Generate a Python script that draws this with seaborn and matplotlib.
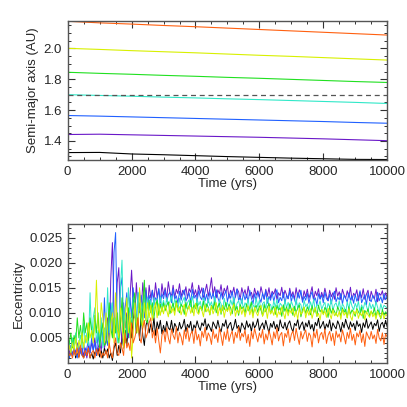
import numpy as np
import pandas as pd
import matplotlib
matplotlib.use("Agg")
import matplotlib.pyplot as plt
from matplotlib.ticker import MultipleLocator, FormatStrFormatter
import seaborn as sns

# ---- data -------------------------------------------------------------
names = ["black", "purple", "blue", "cyan", "green", "yellow", "orange"]
colors = ["#000000", "#6a18c8", "#2060ff", "#30e8c8", "#20e020", "#d8f000", "#ff6010"]

# semi-major axis, every 1000 yrs
a_time = [0, 1000, 2000, 3000, 4000, 5000, 6000, 7000, 8000, 9000, 10000]
a_black = [1.325, 1.326, 1.316, 1.311, 1.305, 1.299, 1.294, 1.289, 1.285, 1.281, 1.280]
a_purple = [1.442, 1.444, 1.440, 1.436, 1.432, 1.428, 1.424, 1.419, 1.414, 1.408, 1.402]
a_blue = [1.565, 1.561, 1.556, 1.551, 1.546, 1.541, 1.536, 1.531, 1.526, 1.520, 1.515]
a_cyan = [1.700, 1.695, 1.690, 1.684, 1.679, 1.673, 1.668, 1.662, 1.656, 1.650, 1.643]
a_green = [1.845, 1.838, 1.832, 1.825, 1.819, 1.812, 1.806, 1.799, 1.792, 1.785, 1.779]
a_yellow = [2.000, 1.993, 1.985, 1.978, 1.971, 1.963, 1.955, 1.948, 1.940, 1.932, 1.924]
a_orange = [2.175, 2.165, 2.157, 2.148, 2.140, 2.131, 2.122, 2.113, 2.104, 2.095, 2.086]
a_ref = 1.70

# eccentricity, every 50 yrs (one row = 500 yrs)
e_step = 50
e_black = [
    0.002, 0.001, 0.0025, 0.0015, 0.003, 0.001, 0.002, 0.0012, 0.0028, 0.0018,
    0.001, 0.0025, 0.0015, 0.003, 0.001, 0.002, 0.0008, 0.0022, 0.0015, 0.003,
    0.0012, 0.0025, 0.001, 0.003, 0.0018, 0.0028, 0.001, 0.002, 0.0005, 0.003,
    0.004, 0.0015, 0.0035, 0.002, 0.0055, 0.003, 0.0065, 0.0035, 0.0075, 0.009,
    0.005, 0.0085, 0.011, 0.006, 0.009, 0.0045, 0.010, 0.0055, 0.0035, 0.0075,
    0.0085, 0.006, 0.0078, 0.0062, 0.009, 0.0055, 0.0082, 0.0068, 0.0085, 0.0058,
    0.0075, 0.0062, 0.0083, 0.0070, 0.0066, 0.0085, 0.0061, 0.0079, 0.0072, 0.0064,
    0.0081, 0.0068, 0.0074, 0.0087, 0.0063, 0.0077, 0.0070, 0.0083, 0.0060, 0.0076,
    0.0069, 0.0084, 0.0072, 0.0065, 0.0080, 0.0074, 0.0088, 0.0066, 0.0078, 0.0071,
    0.0063, 0.0082, 0.0075, 0.0068, 0.0085, 0.0070, 0.0062, 0.0079, 0.0073, 0.0086,
    0.0067, 0.0076, 0.0081, 0.0064, 0.0072, 0.0087, 0.0069, 0.0075, 0.0061, 0.0080,
    0.0073, 0.0066, 0.0084, 0.0071, 0.0078, 0.0063, 0.0082, 0.0070, 0.0076, 0.0088,
    0.0065, 0.0074, 0.0080, 0.0067, 0.0085, 0.0072, 0.0060, 0.0079, 0.0071, 0.0083,
    0.0068, 0.0077, 0.0064, 0.0086, 0.0073, 0.0069, 0.0081, 0.0066, 0.0078, 0.0084,
    0.0070, 0.0062, 0.0079, 0.0074, 0.0087, 0.0067, 0.0076, 0.0082, 0.0065, 0.0080,
    0.0072, 0.0085, 0.0068, 0.0077, 0.0063, 0.0081, 0.0074, 0.0089, 0.0069, 0.0075,
    0.0083, 0.0066, 0.0078, 0.0071, 0.0086, 0.0064, 0.0080, 0.0073, 0.0068, 0.0084,
    0.0076, 0.0062, 0.0081, 0.0070, 0.0087, 0.0075, 0.0067, 0.0082, 0.0072, 0.0079,
    0.0065, 0.0084, 0.0073, 0.0078, 0.0061, 0.0080, 0.0071, 0.0088, 0.0069, 0.0076,
    0.0082, 0.0067, 0.0079, 0.0074, 0.0086, 0.0063, 0.0077, 0.0081, 0.0070, 0.0085,
    0.0072]
e_purple = [
    0.001, 0.002, 0.0035, 0.0015, 0.003, 0.002, 0.004, 0.0015, 0.0025, 0.003,
    0.0015, 0.003, 0.001, 0.0035, 0.002, 0.004, 0.0025, 0.005, 0.002, 0.003,
    0.004, 0.0025, 0.006, 0.003, 0.0045, 0.009, 0.004, 0.017, 0.024, 0.010,
    0.006, 0.016, 0.019, 0.008, 0.004, 0.012, 0.007, 0.010, 0.005, 0.013,
    0.0185, 0.012, 0.009, 0.016, 0.011, 0.0145, 0.010, 0.016, 0.012, 0.015,
    0.011, 0.0155, 0.013, 0.0145, 0.0125, 0.016, 0.013, 0.0148, 0.012, 0.0158,
    0.0135, 0.0150, 0.0128, 0.0162, 0.0140, 0.0133, 0.0155, 0.0130, 0.0147, 0.0138,
    0.0158, 0.0132, 0.0145, 0.0136, 0.0152, 0.0129, 0.0148, 0.0141, 0.0160, 0.0134,
    0.0146, 0.0131, 0.0155, 0.0139, 0.0150, 0.0128, 0.0143, 0.0157, 0.0133, 0.0148,
    0.0170, 0.0135, 0.0152, 0.0130, 0.0146, 0.0138, 0.0156, 0.0132, 0.0149, 0.0140,
    0.0154, 0.0129, 0.0145, 0.0137, 0.0151, 0.0131, 0.0148, 0.0142, 0.0127, 0.0150,
    0.0136, 0.0146, 0.0130, 0.0153, 0.0134, 0.0141, 0.0128, 0.0149, 0.0135, 0.0144,
    0.0131, 0.0152, 0.0138, 0.0127, 0.0147, 0.0133, 0.0150, 0.0129, 0.0143, 0.0137,
    0.0148, 0.0126, 0.0140, 0.0134, 0.0151, 0.0130, 0.0145, 0.0136, 0.0128, 0.0149,
    0.0133, 0.0142, 0.0127, 0.0150, 0.0131, 0.0146, 0.0138, 0.0125, 0.0144, 0.0132,
    0.0147, 0.0129, 0.0139, 0.0152, 0.0126, 0.0143, 0.0134, 0.0148, 0.0128, 0.0141,
    0.0130, 0.0149, 0.0135, 0.0124, 0.0145, 0.0132, 0.0140, 0.0127, 0.0150, 0.0133,
    0.0142, 0.0126, 0.0147, 0.0136, 0.0129, 0.0144, 0.0131, 0.0151, 0.0125, 0.0139,
    0.0134, 0.0146, 0.0123, 0.0141, 0.0130, 0.0148, 0.0127, 0.0137, 0.0145, 0.0124,
    0.0143, 0.0132, 0.0128, 0.0147, 0.0122, 0.0139, 0.0135, 0.0144, 0.0126, 0.0140,
    0.0130]
e_blue = [
    0.002, 0.001, 0.0025, 0.0015, 0.003, 0.002, 0.001, 0.0035, 0.002, 0.0015,
    0.004, 0.0015, 0.003, 0.0045, 0.002, 0.005, 0.0025, 0.004, 0.0015, 0.006,
    0.003, 0.0075, 0.004, 0.013, 0.005, 0.0035, 0.009, 0.012, 0.006, 0.022,
    0.026, 0.007, 0.005, 0.015, 0.017, 0.006, 0.011, 0.014, 0.008, 0.013,
    0.009, 0.015, 0.011, 0.0085, 0.014, 0.010, 0.0135, 0.0115, 0.009, 0.0145,
    0.0115, 0.0135, 0.012, 0.0145, 0.0115, 0.013, 0.0125, 0.0148, 0.012, 0.0138,
    0.0128, 0.0145, 0.0122, 0.0136, 0.0141, 0.0120, 0.0148, 0.0127, 0.0134, 0.0119,
    0.0143, 0.0125, 0.0138, 0.0146, 0.0123, 0.0132, 0.0140, 0.0121, 0.0147, 0.0129,
    0.0135, 0.0122, 0.0144, 0.0131, 0.0126, 0.0149, 0.0124, 0.0137, 0.0120, 0.0142,
    0.0128, 0.0139, 0.0123, 0.0146, 0.0130, 0.0121, 0.0141, 0.0127, 0.0135, 0.0144,
    0.0122, 0.0137, 0.0129, 0.0143, 0.0120, 0.0134, 0.0147, 0.0125, 0.0131, 0.0119,
    0.0140, 0.0126, 0.0136, 0.0122, 0.0145, 0.0129, 0.0118, 0.0138, 0.0124, 0.0142,
    0.0130, 0.0121, 0.0139, 0.0127, 0.0144, 0.0119, 0.0133, 0.0125, 0.0140, 0.0123,
    0.0136, 0.0146, 0.0120, 0.0131, 0.0124, 0.0141, 0.0118, 0.0135, 0.0128, 0.0143,
    0.0122, 0.0137, 0.0126, 0.0117, 0.0140, 0.0129, 0.0145, 0.0121, 0.0133, 0.0125,
    0.0139, 0.0119, 0.0134, 0.0142, 0.0123, 0.0130, 0.0116, 0.0138, 0.0127, 0.0136,
    0.0120, 0.0141, 0.0128, 0.0124, 0.0137, 0.0118, 0.0133, 0.0143, 0.0122, 0.0131,
    0.0126, 0.0139, 0.0117, 0.0135, 0.0129, 0.0121, 0.0140, 0.0125, 0.0134, 0.0119,
    0.0137, 0.0123, 0.0131, 0.0144, 0.0120, 0.0128, 0.0136, 0.0116, 0.0139, 0.0127,
    0.0122, 0.0135, 0.0129, 0.0118, 0.0141, 0.0124, 0.0132, 0.0120, 0.0138, 0.0126,
    0.0134]
e_cyan = [
    0.003, 0.0045, 0.002, 0.005, 0.003, 0.006, 0.0025, 0.004, 0.0055, 0.003,
    0.008, 0.004, 0.006, 0.0035, 0.014, 0.005, 0.009, 0.011, 0.004, 0.0065,
    0.004, 0.009, 0.003, 0.007, 0.0055, 0.015, 0.006, 0.010, 0.012, 0.005,
    0.009, 0.004, 0.007, 0.015, 0.0205, 0.007, 0.011, 0.005, 0.015, 0.009,
    0.008, 0.013, 0.0095, 0.007, 0.014, 0.0105, 0.012, 0.008, 0.0135, 0.010,
    0.013, 0.0105, 0.0125, 0.0095, 0.013, 0.011, 0.0128, 0.0105, 0.0132, 0.0112,
    0.0125, 0.0108, 0.0130, 0.0115, 0.0122, 0.0134, 0.0110, 0.0127, 0.0118, 0.0106,
    0.0129, 0.0113, 0.0124, 0.0131, 0.0109, 0.0120, 0.0126, 0.0112, 0.0133, 0.0117,
    0.0108, 0.0128, 0.0115, 0.0123, 0.0105, 0.0130, 0.0119, 0.0111, 0.0127, 0.0114,
    0.0122, 0.0107, 0.0132, 0.0116, 0.0110, 0.0125, 0.0118, 0.0104, 0.0129, 0.0113,
    0.0121, 0.0109, 0.0126, 0.0115, 0.0131, 0.0106, 0.0119, 0.0124, 0.0111, 0.0128,
    0.0107, 0.0120, 0.0114, 0.0127, 0.0103, 0.0123, 0.0116, 0.0110, 0.0129, 0.0112,
    0.0125, 0.0105, 0.0118, 0.0122, 0.0108, 0.0130, 0.0113, 0.0117, 0.0104, 0.0124,
    0.0111, 0.0127, 0.0106, 0.0119, 0.0115, 0.0102, 0.0126, 0.0110, 0.0121, 0.0108,
    0.0123, 0.0114, 0.0104, 0.0128, 0.0109, 0.0120, 0.0116, 0.0101, 0.0125, 0.0112,
    0.0118, 0.0106, 0.0122, 0.0110, 0.0127, 0.0103, 0.0117, 0.0113, 0.0124, 0.0107,
    0.0115, 0.0121, 0.0102, 0.0119, 0.0111, 0.0126, 0.0105, 0.0116, 0.0120, 0.0109,
    0.0124, 0.0104, 0.0118, 0.0112, 0.0100, 0.0122, 0.0108, 0.0125, 0.0113, 0.0106,
    0.0119, 0.0110, 0.0123, 0.0101, 0.0116, 0.0107, 0.0121, 0.0114, 0.0103, 0.0120,
    0.0108, 0.0117, 0.0105, 0.0122, 0.0111, 0.0099, 0.0118, 0.0106, 0.0115, 0.0112,
    0.0110]
e_green = [
    0.002, 0.004, 0.006, 0.003, 0.0055, 0.004, 0.009, 0.005, 0.0075, 0.004,
    0.010, 0.006, 0.008, 0.0045, 0.009, 0.0065, 0.005, 0.0095, 0.006, 0.010,
    0.003, 0.006, 0.008, 0.0035, 0.004, 0.0065, 0.012, 0.007, 0.005, 0.009,
    0.006, 0.010, 0.004, 0.0075, 0.013, 0.006, 0.004, 0.009, 0.011, 0.005,
    0.007, 0.012, 0.014, 0.006, 0.009, 0.012, 0.0075, 0.011, 0.0165, 0.0085,
    0.008, 0.0125, 0.010, 0.012, 0.009, 0.0115, 0.0125, 0.0095, 0.0118, 0.0102,
    0.012, 0.0104, 0.0115, 0.0122, 0.0098, 0.0110, 0.0119, 0.0103, 0.0124, 0.0108,
    0.0100, 0.0117, 0.0112, 0.0097, 0.0121, 0.0106, 0.0114, 0.0125, 0.0101, 0.0116,
    0.0109, 0.0120, 0.0099, 0.0113, 0.0105, 0.0123, 0.0102, 0.0118, 0.0111, 0.0096,
    0.0115, 0.0107, 0.0122, 0.0100, 0.0112, 0.0119, 0.0097, 0.0114, 0.0106, 0.0121,
    0.0103, 0.0117, 0.0110, 0.0098, 0.0120, 0.0105, 0.0113, 0.0095, 0.0116, 0.0108,
    0.0112, 0.0099, 0.0118, 0.0104, 0.0110, 0.0121, 0.0096, 0.0109, 0.0115, 0.0101,
    0.0114, 0.0106, 0.0094, 0.0117, 0.0102, 0.0111, 0.0119, 0.0098, 0.0108, 0.0113,
    0.0097, 0.0115, 0.0105, 0.0110, 0.0093, 0.0116, 0.0103, 0.0112, 0.0100, 0.0118,
    0.0107, 0.0095, 0.0113, 0.0101, 0.0109, 0.0116, 0.0092, 0.0106, 0.0111, 0.0099,
    0.0112, 0.0104, 0.0096, 0.0114, 0.0100, 0.0108, 0.0093, 0.0115, 0.0102, 0.0107,
    0.0098, 0.0111, 0.0105, 0.0091, 0.0113, 0.0099, 0.0109, 0.0103, 0.0095, 0.0112,
    0.0104, 0.0094, 0.0110, 0.0101, 0.0107, 0.0090, 0.0112, 0.0097, 0.0106, 0.0100,
    0.0093, 0.0109, 0.0102, 0.0096, 0.0111, 0.0089, 0.0105, 0.0099, 0.0108, 0.0094,
    0.0103, 0.0097, 0.0110, 0.0092, 0.0106, 0.0100, 0.0088, 0.0107, 0.0095, 0.0102,
    0.0098]
e_yellow = [
    0.001, 0.0035, 0.002, 0.004, 0.0025, 0.005, 0.002, 0.0045, 0.003, 0.006,
    0.003, 0.0055, 0.004, 0.008, 0.005, 0.0065, 0.004, 0.008, 0.0165, 0.007,
    0.006, 0.012, 0.009, 0.004, 0.010, 0.006, 0.003, 0.008, 0.010, 0.004,
    0.014, 0.007, 0.005, 0.011, 0.008, 0.003, 0.009, 0.013, 0.006, 0.010,
    0.001, 0.006, 0.012, 0.008, 0.006, 0.015, 0.009, 0.007, 0.012, 0.0085,
    0.012, 0.009, 0.0115, 0.0085, 0.0105, 0.012, 0.009, 0.0118, 0.0095, 0.0112,
    0.0098, 0.0115, 0.0105, 0.0092, 0.0118, 0.0100, 0.0110, 0.0095, 0.0120, 0.0103,
    0.0112, 0.0096, 0.0108, 0.0117, 0.0093, 0.0106, 0.0114, 0.0099, 0.0111, 0.0094,
    0.0119, 0.0101, 0.0097, 0.0113, 0.0105, 0.0092, 0.0116, 0.0102, 0.0109, 0.0096,
    0.0114, 0.0098, 0.0107, 0.0120, 0.0094, 0.0110, 0.0100, 0.0115, 0.0091, 0.0108,
    0.0103, 0.0113, 0.0095, 0.0109, 0.0117, 0.0093, 0.0106, 0.0099, 0.0112, 0.0097,
    0.0110, 0.0092, 0.0104, 0.0114, 0.0096, 0.0108, 0.0090, 0.0111, 0.0101, 0.0094,
    0.0107, 0.0115, 0.0093, 0.0102, 0.0109, 0.0089, 0.0113, 0.0098, 0.0105, 0.0095,
    0.0111, 0.0091, 0.0103, 0.0096, 0.0112, 0.0100, 0.0088, 0.0108, 0.0094, 0.0106,
    0.0099, 0.0110, 0.0092, 0.0104, 0.0087, 0.0109, 0.0097, 0.0101, 0.0112, 0.0090,
    0.0105, 0.0095, 0.0108, 0.0089, 0.0102, 0.0111, 0.0093, 0.0099, 0.0086, 0.0107,
    0.0096, 0.0104, 0.0091, 0.0109, 0.0098, 0.0088, 0.0106, 0.0094, 0.0100, 0.0092,
    0.0103, 0.0087, 0.0107, 0.0095, 0.0101, 0.0090, 0.0108, 0.0093, 0.0085, 0.0104,
    0.0097, 0.0106, 0.0089, 0.0100, 0.0094, 0.0105, 0.0086, 0.0102, 0.0096, 0.0091,
    0.0104, 0.0092, 0.0099, 0.0087, 0.0103, 0.0095, 0.0090, 0.0101, 0.0088, 0.0097,
    0.0094]
e_orange = [
    0.003, 0.0015, 0.002, 0.001, 0.0025, 0.0015, 0.003, 0.001, 0.0035, 0.0015,
    0.001, 0.0025, 0.0015, 0.003, 0.001, 0.002, 0.0025, 0.001, 0.0028, 0.0015,
    0.003, 0.001, 0.002, 0.0015, 0.0025, 0.001, 0.004, 0.002, 0.001, 0.0035,
    0.005, 0.002, 0.0015, 0.004, 0.003, 0.0015, 0.006, 0.003, 0.004, 0.0025,
    0.008, 0.004, 0.005, 0.0065, 0.009, 0.005, 0.004, 0.007, 0.0085, 0.005,
    0.006, 0.008, 0.009, 0.005, 0.0065, 0.004, 0.007, 0.0045, 0.002, 0.0055,
    0.0065, 0.0042, 0.0070, 0.0050, 0.0038, 0.0068, 0.0055, 0.0047, 0.0072, 0.0040,
    0.0061, 0.0052, 0.0036, 0.0066, 0.0048, 0.0070, 0.0043, 0.0058, 0.0064, 0.0039,
    0.0069, 0.0046, 0.0057, 0.0034, 0.0063, 0.0051, 0.0071, 0.0044, 0.0060, 0.0053,
    0.0037, 0.0067, 0.0049, 0.0058, 0.0041, 0.0070, 0.0054, 0.0035, 0.0062, 0.0047,
    0.0068, 0.0043, 0.0056, 0.0064, 0.0039, 0.0061, 0.0050, 0.0072, 0.0045, 0.0059,
    0.0052, 0.0066, 0.0040, 0.0057, 0.0033, 0.0063, 0.0048, 0.0069, 0.0055, 0.0042,
    0.0060, 0.0050, 0.0067, 0.0038, 0.0058, 0.0046, 0.0065, 0.0053, 0.0036, 0.0062,
    0.0049, 0.0070, 0.0044, 0.0056, 0.0061, 0.0034, 0.0059, 0.0051, 0.0068, 0.0041,
    0.0057, 0.0064, 0.0045, 0.0069, 0.0052, 0.0037, 0.0063, 0.0048, 0.0058, 0.0066,
    0.0043, 0.0060, 0.0054, 0.0032, 0.0062, 0.0050, 0.0067, 0.0040, 0.0056, 0.0061,
    0.0047, 0.0068, 0.0039, 0.0055, 0.0063, 0.0044, 0.0059, 0.0035, 0.0064, 0.0051,
    0.0058, 0.0042, 0.0066, 0.0053, 0.0038, 0.0061, 0.0049, 0.0069, 0.0045, 0.0057,
    0.0036, 0.0060, 0.0052, 0.0065, 0.0041, 0.0058, 0.0033, 0.0062, 0.0054, 0.0047,
    0.0063, 0.0048, 0.0056, 0.0039, 0.0067, 0.0050, 0.0044, 0.0060, 0.0037, 0.0058,
    0.0052]

# ---- long tables --------------------------------------------------------
a_all = [a_black, a_purple, a_blue, a_cyan, a_green, a_yellow, a_orange]
e_all = [e_black, e_purple, e_blue, e_cyan, e_green, e_yellow, e_orange]

df_a = pd.concat([pd.DataFrame({"time": a_time, "val": v, "body": n})
                  for n, v in zip(names, a_all)], ignore_index=True)
df_e = pd.concat([pd.DataFrame({"time": np.arange(len(v)) * e_step, "val": v, "body": n})
                  for n, v in zip(names, e_all)], ignore_index=True)
pal = dict(zip(names, colors))

# ---- plot ----------------------------------------------------------------
sns.set_style("ticks")
plt.rcParams["font.family"] = ["Liberation Sans", "DejaVu Sans"]
plt.rcParams["font.size"] = 9.5

fig = plt.figure(figsize=(4.07, 4.07), dpi=100)
ax1 = fig.add_axes([0.1663, 0.6069, 0.785, 0.3415])
ax2 = fig.add_axes([0.1663, 0.1081, 0.785, 0.3415])

sns.lineplot(data=df_a, x="time", y="val", hue="body", palette=pal,
             linewidth=0.8, legend=False, ax=ax1)
ax1.axhline(a_ref, color="#555555", linestyle=(0, (4, 3)), linewidth=0.9)

sns.lineplot(data=df_e, x="time", y="val", hue="body", palette=pal,
             linewidth=0.7, legend=False, ax=ax2)

ax1.set_ylim(1.277, 2.177)
ax1.yaxis.set_major_locator(MultipleLocator(0.2))
ax1.yaxis.set_minor_locator(MultipleLocator(0.05))
ax1.yaxis.set_major_formatter(FormatStrFormatter("%.1f"))
ax1.set_ylabel("Semi-major axis (AU)", labelpad=3)

ax2.set_ylim(0, 0.0277)
ax2.yaxis.set_major_locator(MultipleLocator(0.005))
ax2.yaxis.set_minor_locator(MultipleLocator(0.001))
ax2.yaxis.set_major_formatter(FormatStrFormatter("%.3f"))
ax2.set_yticks([0.005, 0.010, 0.015, 0.020, 0.025])
ax2.set_ylabel("Eccentricity", labelpad=3)

for ax in (ax1, ax2):
    ax.set_xlim(0, 10000)
    ax.xaxis.set_major_locator(MultipleLocator(2000))
    ax.xaxis.set_minor_locator(MultipleLocator(500))
    ax.set_xlabel("Time (yrs)", labelpad=0)
    ax.tick_params(which="both", direction="in", top=True, right=True,
                   color="#333333", labelsize=9.5)
    ax.tick_params(which="major", length=5, width=0.8, pad=4)
    ax.tick_params(which="minor", length=2.5, width=0.7)
    for s in ax.spines.values():
        s.set_color("#555555")
        s.set_linewidth(1.0)

plt.savefig("out.png", dpi=100)
